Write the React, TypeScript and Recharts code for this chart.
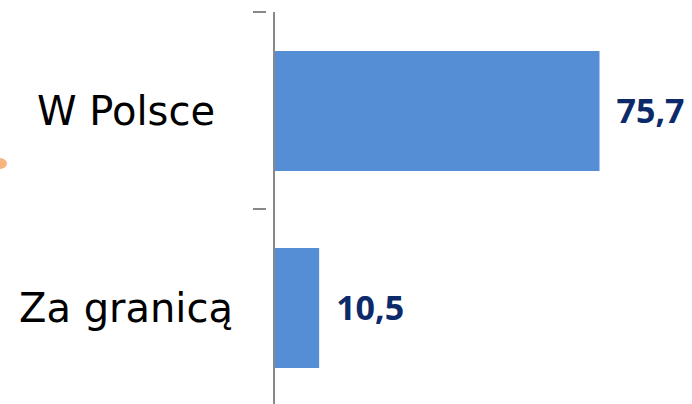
import { Bar, BarChart, LabelList, XAxis, YAxis } from "recharts"

const categories = ["W Polsce", "Za granicą"]
const values = [75.7, 10.5]

const data = categories.map((name, i) => ({ name, value: values[i] }))

const CHART_W = 692
const CHART_H = 412
const MARGIN = { top: 12, right: 74, bottom: 6, left: 0 }
const BAND = (CHART_H - MARGIN.top - MARGIN.bottom) / categories.length
const AXIS_GREY = "#888888"

const renderTick = (props: any) => {
  const { x, y, payload } = props
  const top = y - BAND / 2
  return (
    <g>
      <line x1={x - 13} x2={x} y1={top} y2={top} stroke={AXIS_GREY} strokeWidth={2} />
      <text
        x={126}
        y={y}
        dy="0.36em"
        textAnchor="middle"
        fontFamily="DejaVu Sans"
        fontSize={40}
        fill="#000"
      >
        {payload.value}
      </text>
    </g>
  )
}

const renderValue = (props: any) => {
  const { x, y, width, height, value } = props
  return (
    <text
      x={x + width + 17}
      y={y + height / 2}
      dy="0.36em"
      textAnchor="start"
      fontFamily="Open Sans"
      fontWeight={700}
      fontSize={34}
      fill="#0c2a6a"
    >
      {String(value).replace(".", ",")}
    </text>
  )
}

export default function App() {
  return (
    <div
      style={{
        position: "absolute",
        left: 0,
        top: 0,
        width: 692,
        height: 404,
        overflow: "hidden",
        background: "#fff",
      }}
    >
      {/* cut-off orange decoration at the left edge */}
      <div
        style={{
          position: "absolute",
          left: -9,
          top: 158,
          width: 16,
          height: 11,
          borderRadius: "50%",
          background: "#f7b47c",
        }}
      />
      <BarChart
        width={CHART_W}
        height={CHART_H}
        data={data}
        layout="vertical"
        margin={MARGIN}
      >
        <XAxis type="number" domain={[0, 80]} hide />
        <Bar dataKey="value" fill="#558ed5" barSize={120} isAnimationActive={false}>
          <LabelList dataKey="value" content={renderValue} />
        </Bar>
        <YAxis
          type="category"
          dataKey="name"
          width={274}
          stroke={AXIS_GREY}
          strokeWidth={2}
          axisLine={{ stroke: AXIS_GREY, strokeWidth: 2 }}
          tickLine={false}
          tick={renderTick}
          interval={0}
        />
      </BarChart>
    </div>
  )
}
